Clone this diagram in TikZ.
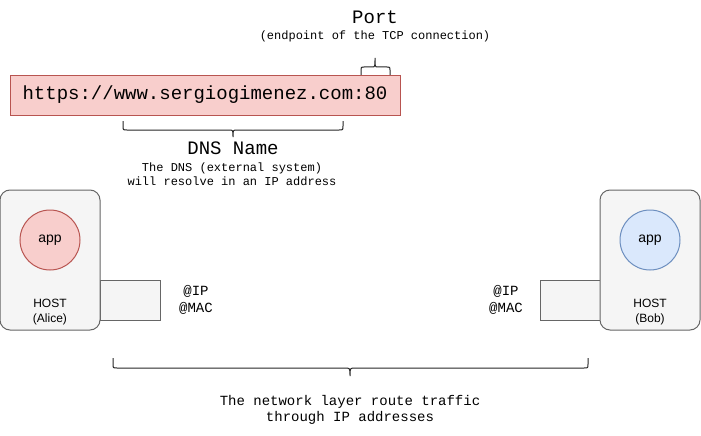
\documentclass[tikz,border=0pt]{standalone}
\usepackage{fontspec}
\setmainfont{Liberation Sans}
\newfontfamily\monof{Liberation Mono}
\definecolor{redfill}{HTML}{F8CECC}
\definecolor{redline}{HTML}{B85450}
\definecolor{bluefill}{HTML}{DAE8FC}
\definecolor{blueline}{HTML}{6C8EBF}
\definecolor{grayfill}{HTML}{F5F5F5}
\definecolor{grayline}{HTML}{666666}
\begin{document}
\begin{tikzpicture}[x=1pt,y=-1pt,line width=1pt,
  urlbox/.style={draw=redline,fill=redfill,minimum width=390pt,minimum height=40pt,inner sep=0pt,font=\monof\fontsize{19}{23}\selectfont},
  hostbox/.style={draw=grayline,fill=grayfill,rounded corners=10pt,minimum width=100pt,minimum height=140pt,inner sep=0pt},
  ifbox/.style={draw=grayline,fill=grayfill,minimum width=60pt,minimum height=40pt,inner sep=0pt},
  appA/.style={circle,draw=redline,fill=redfill,minimum size=60pt,inner sep=0pt,font=\fontsize{14}{16}\selectfont},
  appB/.style={circle,draw=blueline,fill=bluefill,minimum size=60pt,inner sep=0pt,font=\fontsize{14}{16}\selectfont},
  hostlbl/.style={align=center,inner sep=0pt,font=\fontsize{12}{15}\selectfont},
  addr/.style={align=center,inner sep=0pt,font=\monof\fontsize{14}{17}\selectfont},
  bigmono/.style={inner sep=0pt,font=\monof\fontsize{19}{23}\selectfont},
  smallmono/.style={align=center,inner sep=0pt,font=\monof\fontsize{12}{14}\selectfont},
  midmono/.style={align=center,inner sep=0pt,font=\monof\fontsize{14}{16}\selectfont},
  bracel/.style={draw=black!85,line width=1pt}]
\useasboundingbox (0,0) rectangle (701,436);

% Port
\node[bigmono] (port) at (375,17) {Port};
\node[smallmono] (portd) at (375,36) {(endpoint of the TCP connection)};
\draw[bracel] (361,75) -- (361,70) .. controls (361,67) .. (364,67) -- (372,67) .. controls (375,67) .. (375,58) .. controls (375,67) .. (378,67) -- (387,67) .. controls (390,67) .. (390,70) -- (390,75);

% URL
\node[urlbox] (url) at (205,95) {https://www.sergiogimenez.com:80};

% DNS brace
\draw[bracel] (123,121) -- (123,126) .. controls (123,130) .. (127,130) -- (229,130) .. controls (233,130) .. (233,137) .. controls (233,130) .. (237,130) -- (339,130) .. controls (343,130) .. (343,126) -- (343,121);
\node[bigmono] (dns) at (233,148) {DNS Name};
\node[smallmono] (dnsd) at (232,174) {The DNS (external system)\\will resolve in an IP address};

% Alice
\node[ifbox] (ifA) at (130,300) {};
\node[hostbox] (alice) at (50,260) {};
\node[appA] (appa) at (50,240) {\raisebox{-1.5pt}{app}};
\node[hostlbl] (hosta) at (50,312.5) {HOST\\(Alice)};
\node[addr] (addrA) at (196,299.5) {@IP\\@MAC};

% Bob
\node[ifbox] (ifB) at (570,300) {};
\node[hostbox] (bob) at (650,260) {};
\node[appB] (appb) at (650,240) {\raisebox{-1.5pt}{app}};
\node[hostlbl] (hostb) at (650,312.5) {HOST\\(Bob)};
\node[addr] (addrB) at (506,299.5) {@IP\\@MAC};

% network brace
\draw[bracel] (113,358) -- (113,364) .. controls (113,368) .. (117,368) -- (345,368) .. controls (350,368) .. (350,376) .. controls (350,368) .. (355,368) -- (584,368) .. controls (588,368) .. (588,364) -- (588,358);
\node[midmono] (net) at (350,410) {The network layer route traffic\\through IP addresses};
\end{tikzpicture}
\end{document}
